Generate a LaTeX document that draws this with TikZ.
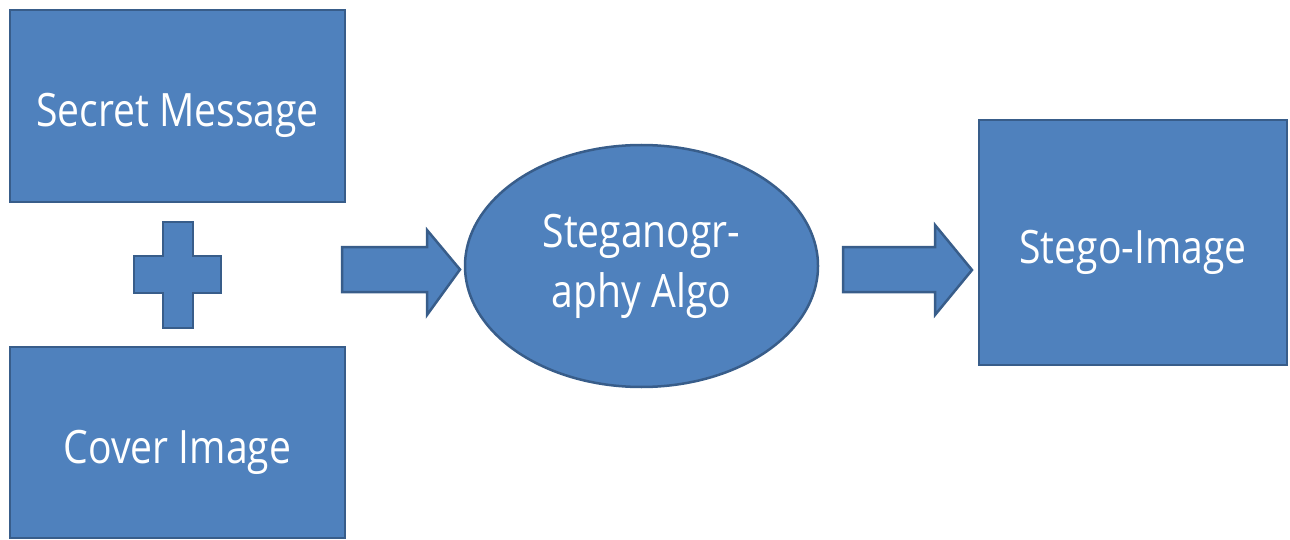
\documentclass[tikz,border=0pt]{standalone}
\usepackage{fontspec}
\setmainfont{Open Sans}[FakeStretch=0.85]
\usetikzlibrary{shapes.geometric}
\definecolor{boxfill}{HTML}{4F81BD}
\definecolor{boxline}{HTML}{385D8A}
\tikzset{
  blk/.style={fill=boxfill, draw=boxline, line width=2.5pt, line join=miter},
  lbl/.style={text=white, font=\fontsize{46}{60}\selectfont, align=center, inner sep=0pt},
  boxlbl/.style={lbl, text height=42pt, text depth=0pt},
}
\begin{document}
\begin{tikzpicture}[x=1pt,y=-1pt]
\useasboundingbox (0,0) rectangle (1290,540);
% boxes
\node[blk, boxlbl, minimum width=335pt, minimum height=192pt] (secret) at (177.5,106) {Secret Message};
\node[blk, boxlbl, minimum width=335pt, minimum height=191pt] (cover) at (177.5,442.5) {Cover Image};
\node[blk, boxlbl, minimum width=308pt, minimum height=245pt] (stego) at (1133,242.5) {Stego-Image};
\node[blk, lbl, ellipse, minimum width=353pt, minimum height=242pt] (algo) at (641.5,266) {Steganogr-\\aphy Algo};
% plus sign
\draw[blk] (163,222) -- (193,222) -- (193,256) -- (221,256) -- (221,293) -- (193,293)
  -- (193,328) -- (163,328) -- (163,293) -- (134,293) -- (134,256) -- (163,256) -- cycle;
% block arrows
\draw[blk] (342,247) -- (427,247) -- (427,230) -- (460,269.5) -- (427,315) -- (427,292) -- (342,292) -- cycle;
\draw[blk] (843,247) -- (935,247) -- (935,225) -- (972,270) -- (935,315) -- (935,292) -- (843,292) -- cycle;
\end{tikzpicture}
\end{document}
